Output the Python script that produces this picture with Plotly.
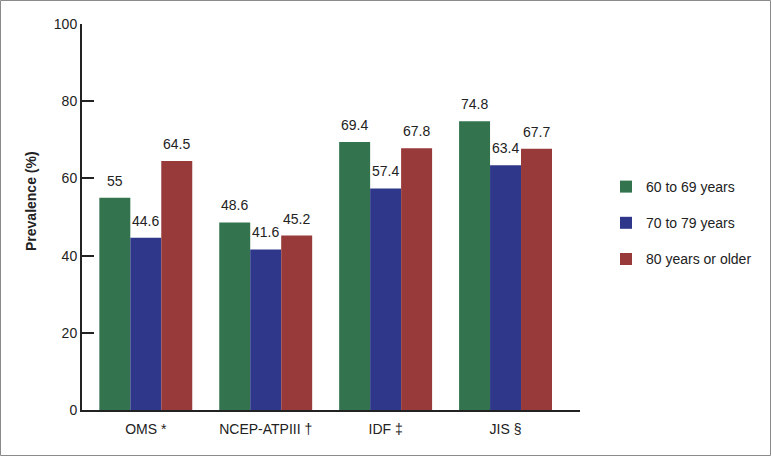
import plotly.graph_objects as go

categories = ["OMS *", "NCEP-ATPIII †", "IDF ‡", "JIS §"]
series_names = ["60 to 69 years", "70 to 79 years", "80 years or older"]
vals_60_69 = [55, 48.6, 69.4, 74.8]
vals_70_79 = [44.6, 41.6, 57.4, 63.4]
vals_80 = [64.5, 45.2, 67.8, 67.7]
y_ticks = [0, 20, 40, 60, 80, 100]

colors = ["#33744F", "#2E378A", "#983A3A"]
series = [vals_60_69, vals_70_79, vals_80]

W, H = 771, 456
ml, mr, mt, mb = 82, 191, 24, 46
pw, ph = W - ml - mr, H - mt - mb
bar_px = 31  # width of one bar in pixels (for label offsets)

fig = go.Figure()
annotations = []
for i, (name, vals) in enumerate(zip(series_names, series)):
    fig.add_trace(go.Bar(
        x=categories, y=vals, name=name,
        marker=dict(color=colors[i], line=dict(width=0)),
        legendgroup=f"g{i}",
    ))
    for c, v in zip(categories, vals):
        annotations.append(dict(
            x=c, y=v, xref="x", yref="y", text=f"{v:g}", showarrow=False,
            xanchor="center", yanchor="bottom", xshift=(i - 1) * bar_px, yshift=7,
            font=dict(size=14, color="#222222", family="Liberation Sans")))

annotations.append(dict(
    x=(31 - ml) / pw, y=(H - mb - 201) / ph, xref="paper", yref="paper",
    text="<b>Prevalence (%)</b>", textangle=-90, showarrow=False,
    xanchor="center", yanchor="middle",
    font=dict(size=14, color="#222222", family="Liberation Sans")))

fig.update_layout(
    width=W, height=H,
    margin=dict(l=ml, r=mr, t=mt, b=mb),
    paper_bgcolor="white", plot_bgcolor="white",
    font=dict(family="Liberation Sans", color="#222222", size=13),
    barmode="group", bargap=0.225, bargroupgap=0,
    showlegend=True,
    legend=dict(x=(606 - ml) / pw, xanchor="left", y=(H - mb - 223) / ph, yanchor="middle",
                font=dict(size=14, color="#222222"), tracegroupgap=15,
                itemwidth=30, bgcolor="rgba(0,0,0,0)"),
    xaxis=dict(range=[-0.532, 3.621], showline=True, linecolor="#222222", linewidth=2,
               ticks="", showgrid=False, tickfont=dict(size=14), zeroline=False,
               ticklabelstandoff=5),
    yaxis=dict(range=[0, 100], tickvals=y_ticks, showline=True, linecolor="#222222",
               linewidth=2, ticks="inside", ticklen=12, tickwidth=2, tickcolor="#222222",
               showgrid=False, zeroline=False, tickfont=dict(size=14)),
    annotations=annotations,
    shapes=[dict(type="rect", xref="paper", yref="paper",
                 x0=-(ml - 0.5) / pw, x1=1 + (mr - 0.5) / pw,
                 y0=-(mb - 0.5) / ph, y1=1 + (mt - 0.5) / ph,
                 line=dict(color="#8a8a8a", width=1), layer="below")],
)

fig.write_html(
    "out.html",
    config={"displayModeBar": False, "responsive": False},
    post_script="document.body.style.margin='0';document.body.style.padding='0';"
                "document.body.style.overflow='hidden';"
                "document.documentElement.style.overflow='hidden';",
)
